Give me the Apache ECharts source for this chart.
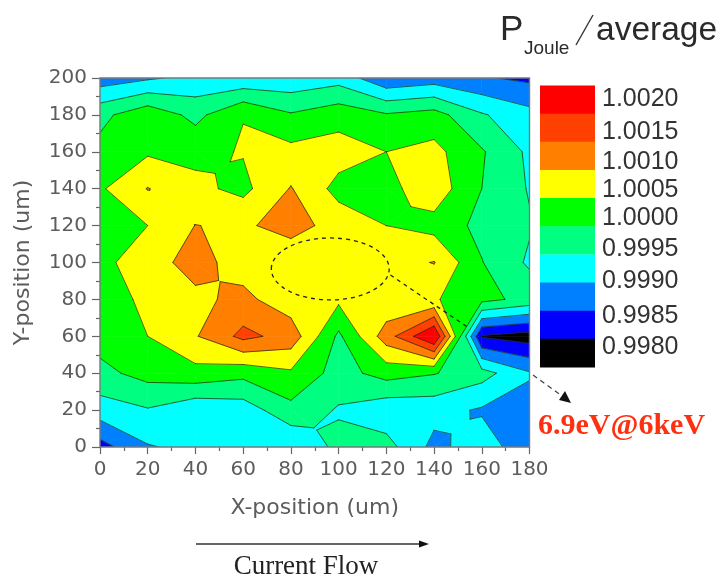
<!DOCTYPE html>
<html><head><meta charset="utf-8">
<style>html,body{margin:0;padding:0;background:#fff}#c{width:718px;height:578px}</style>
<script src="https://cdn.jsdelivr.net/npm/echarts@6/dist/echarts.min.js"></script>
</head><body><div id="c"></div>
<script>
const xs = [0,20,40,60,80,100,120,140,160,180];
const ys = [0,20,40,60,80,100,120,140,160,180,200];
const row0   = [.9983,.99896,.99913,.9992,.99901,.99964,.9997,.99885,.99928,.99864];
const row20  = [.99926,.99946,.9991,.99923,.99985,.99945,.99915,.99918,.99894,.9988];
const row40  = [.99986,1.00018,1.00034,1.00015,1.00042,.9998,1.0002,1.00003,.9997,.99905];
const row60  = [1.0002,1.0005,1.00096,1.00164,1.0013,.9999,1.00126,1.00256,.99795,.99775];
const row80  = [1.0003,1.00059,1.00089,1.00113,1.0007,1.0006,1.0006,1.00055,1.00015,.99984];
const row100 = [1.00035,1.0008,1.00118,1.00078,1.00063,1.0008,1.0008,1.00102,1.00002,.99942];
const row120 = [1.0003,1.0005,1.00101,1.00092,1.0012,1.0008,1.0005,1.00032,.99986,.99955];
const row140 = [1.00043,1.00102,1.00062,1.00037,1.00103,1.00033,1.00035,1.0008,1.0000,.99946];
const row160 = [1.00015,1.00043,1.00038,1.00053,1.00065,1.00073,1.0005,1.00065,1.00005,.9994];
const row180 = [.99986,1.00035,.99985,1.00049,1.00005,1.0003,1.00005,1.0002,.99955,.99917];
const row200 = [.99873,.99893,.99913,.9991,.99914,.9993,.9986,.99875,.99855,.9984];
const rows = [row0,row20,row40,row60,row80,row100,row120,row140,row160,row180,row200];
const levels = [.998,.9985,.999,.9995,1,1.0005,1.001,1.0015,1.002];
const levelLabels = ['1.0020','1.0015','1.0010','1.0005','1.0000','0.9995','0.9990','0.9985','0.9980'];
const bandColors = ['#000000','#0000ff','#0080ff','#00ffff','#00ff80','#00ff00','#ffff00','#ff8000','#ff4000','#ff0000'];

// A cell is one quad; only saddle cells are cut into four triangles at their centre.
function cellPolys(i,j){
  const p=(a,b)=>[xs[a],ys[b],rows[b][a]];
  const A=p(i,j),B=p(i+1,j),C=p(i+1,j+1),D=p(i,j+1);
  const saddle=levels.some(lv=>{
    const a=A[2]>=lv,b=B[2]>=lv,c=C[2]>=lv,d=D[2]>=lv;
    return a===c&&b===d&&a!==b;
  });
  if(!saddle) return [[A,B,C,D]];
  const M=[(A[0]+C[0])/2,(A[1]+C[1])/2,(A[2]+B[2]+C[2]+D[2])/4];
  return [[A,B,M],[B,C,M],[C,D,M],[D,A,M]];
}
function clip(poly,lv,keepAbove){
  const out=[];
  for(let k=0;k<poly.length;k++){
    const a=poly[k],b=poly[(k+1)%poly.length];
    const ia=keepAbove?a[2]>=lv:a[2]<lv, ib=keepAbove?b[2]>=lv:b[2]<lv;
    if(ia) out.push(a);
    if(ia!==ib){const t=(lv-a[2])/(b[2]-a[2]);out.push([a[0]+t*(b[0]-a[0]),a[1]+t*(b[1]-a[1]),lv]);}
  }
  return out;
}
const cells=[];
for(let j=0;j<ys.length-1;j++)for(let i=0;i<xs.length-1;i++)cells.push([i,j]);

function renderBands(params,api){
  const children=[];
  cellPolys(api.value(0),api.value(1)).forEach(tri=>{
    bandColors.forEach((col,b)=>{
      let poly=tri;
      if(b>0) poly=clip(poly,levels[b-1],true);
      if(poly.length&&b<levels.length) poly=clip(poly,levels[b],false);
      if(poly.length>=3) children.push({type:'polygon',shape:{points:poly.map(q=>api.coord([q[0],q[1]]))},
        style:{fill:col,stroke:col,lineWidth:0.6}});
    });
  });
  return {type:'group',children};
}
function renderLines(params,api){
  const children=[];
  cellPolys(api.value(0),api.value(1)).forEach(poly=>{
    levels.forEach(lv=>{
      const pts=[];
      for(let k=0;k<poly.length;k++){
        const a=poly[k],b=poly[(k+1)%poly.length];
        if((a[2]>=lv)!==(b[2]>=lv)){const t=(lv-a[2])/(b[2]-a[2]);pts.push(api.coord([a[0]+t*(b[0]-a[0]),a[1]+t*(b[1]-a[1])]));}
      }
      if(pts.length===2) children.push({type:'line',shape:{x1:pts[0][0],y1:pts[0][1],x2:pts[1][0],y2:pts[1][1]},
        style:{stroke:'#1c2a14',lineWidth:0.9,opacity:0.8,lineCap:'round'}});
    });
  });
  return {type:'group',children};
}
function renderOverlay(params,api){
  const tl=api.coord([0,200]),br=api.coord([180,0]);
  const c=api.coord([96.5,96.5]);
  const rx=api.size([24.7,0])[0], ry=api.size([0,16.8])[1];
  const a=api.coord([121.7,93.2]),b=api.coord([154,65]);
  const dash={stroke:'#222',lineWidth:1.3,lineDash:[4,4],fill:null};
  return {type:'group',children:[
    {type:'ellipse',shape:{cx:c[0],cy:c[1],rx:rx,ry:ry},style:dash},
    {type:'line',shape:{x1:a[0],y1:a[1],x2:b[0],y2:b[1]},style:dash},
    {type:'rect',shape:{x:tl[0],y:tl[1],width:br[0]-tl[0],height:br[1]-tl[1]},style:{fill:null,stroke:'#77777f',lineWidth:1.4}}
  ]};
}
const axisText={color:'#5c5c5c',fontFamily:'DejaVu Sans',fontSize:20};
const chart=echarts.init(document.getElementById('c'),null,{renderer:'canvas'});
const key=[];
bandColors.slice().reverse().forEach((col,k)=>{
  key.push({type:'rect',shape:{x:540,y:85.5+k*28.15,width:55,height:28.6},style:{fill:col}});
});
const labelY=[99,132,162,190,218,249,281,316,347];
levelLabels.forEach((t,k)=>{
  key.push({type:'text',x:602,y:labelY[k],style:{text:t,fill:'#333',font:'25px "Liberation Sans"',textVerticalAlign:'middle'}});
});
function txt(x,y,t,font,fill,align){return {type:'text',x,y,style:{text:t,font,fill:fill||'#2a2a2a',textAlign:align||'left',textVerticalAlign:'middle'}};}
chart.setOption({
  animation:false,
  grid:{left:100,top:78,width:429.5,height:369,containLabel:false},
  xAxis:{type:'value',min:0,max:180,interval:20,name:'X-position (um)',nameLocation:'middle',nameGap:50,
    nameTextStyle:Object.assign({},axisText,{fontSize:22}),
    axisLine:{show:false},splitLine:{show:false},
    axisTick:{show:true,length:7,lineStyle:{color:'#666',width:1.2}},
    minorTick:{show:true,splitNumber:2,length:4,lineStyle:{color:'#666',width:1.2}},
    axisLabel:Object.assign({margin:13},axisText)},
  yAxis:{type:'value',min:0,max:200,interval:20,name:'Y-position (um)',nameLocation:'middle',nameGap:66,
    nameTextStyle:Object.assign({},axisText,{fontSize:22}),
    axisLine:{show:false},splitLine:{show:false},
    axisTick:{show:true,length:8,lineStyle:{color:'#666',width:1.2}},
    minorTick:{show:true,splitNumber:2,length:4,lineStyle:{color:'#666',width:1.2}},
    axisLabel:Object.assign({margin:13},axisText)},
  series:[
    {type:'custom',name:'bands',coordinateSystem:'cartesian2d',data:cells,renderItem:renderBands,z:2,silent:true,clip:true,encode:{x:0,y:1}},
    {type:'custom',name:'contours',coordinateSystem:'cartesian2d',data:cells,renderItem:renderLines,z:3,silent:true,clip:true,encode:{x:0,y:1}},
    {type:'custom',name:'overlay',coordinateSystem:'cartesian2d',data:[[0,0]],renderItem:renderOverlay,z:4,silent:true,encode:{x:0,y:1}}
  ],
  graphic:[...key,
    txt(500,30,'P','35px "Liberation Sans"'),
    txt(524,49,'Joule','19px "Liberation Sans"'),
    {type:'line',shape:{x1:576,y1:45,x2:593,y2:15},style:{stroke:'#333',lineWidth:1.4}},
    txt(596,31,'average','33.5px "Liberation Sans"'),
    txt(538,426,'6.9eV@6keV','bold 30px "Liberation Serif"','#ff3010'),
    txt(306,567,'Current Flow','27px "Liberation Serif"','#222','center'),
    {type:'line',shape:{x1:196,y1:544,x2:420,y2:544},style:{stroke:'#333',lineWidth:1.6}},
    {type:'polygon',shape:{points:[[419,540.5],[429,544],[419,547.5]]},style:{fill:'#111'}},
    {type:'line',shape:{x1:533,y1:375,x2:562,y2:396},style:{stroke:'#444',lineWidth:1.3,lineDash:[5,4]}},
    {type:'polygon',shape:{points:[[571,403],[559,400],[565,391]]},style:{fill:'#111'}}
  ]
});
</script></body></html>
